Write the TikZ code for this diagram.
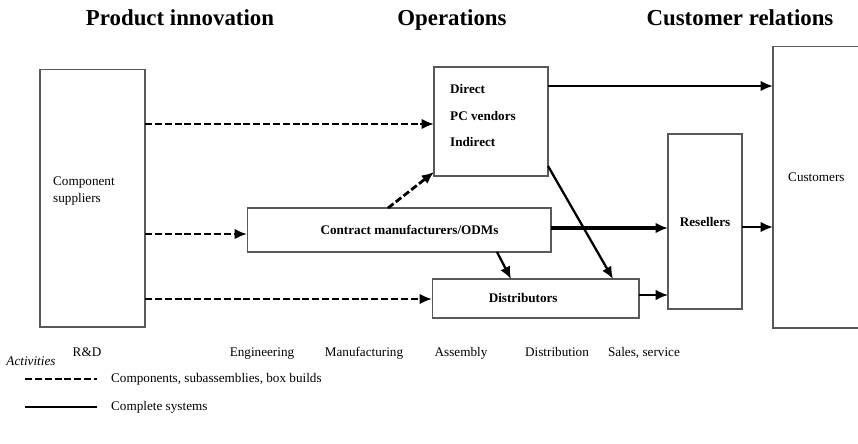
\documentclass[tikz,border=0pt]{standalone}
\usepackage{fontspec}
\setmainfont{Liberation Serif}
\usetikzlibrary{arrows.meta, positioning}

\tikzset{
  boxnode/.style={draw=black!65, line width=0.6pt, inner sep=0pt, outer sep=0pt},
  headtxt/.style={font=\fontsize{13}{15}\selectfont\bfseries, anchor=base},
  lbl/.style={font=\fontsize{7.5}{10.2}\selectfont},
  lblb/.style={font=\fontsize{7.5}{10}\selectfont\bfseries},
  dashedline/.style={line width=1.6pt, dash pattern=on 4pt off 1.6pt},
  dasharrow/.style={dashedline, -{Latex[length=7pt,width=6pt]}},
  solidarrow/.style={line width=1.3pt, -{Latex[length=7pt,width=6pt]}},
}

\begin{document}
\begin{tikzpicture}[x=0.02cm, y=-0.02cm]
  \useasboundingbox (0,0) rectangle (858,443);
  % titulos
  \node[headtxt] (hprod) at (180,25) {Product innovation};
  \node[headtxt] (hops) at (452,25) {Operations};
  \node[headtxt] (hcus) at (740,25) {Customer relations};
  % caixas
  \node[boxnode, minimum width=2.1cm, minimum height=5.16cm] (sup) at (92.5,198) {};
  \node[lbl, anchor=west, align=left] (suptxt) at (47,191) {Component\\suppliers};
  \node[boxnode, minimum width=2.28cm, minimum height=2.18cm] (pc) at (491,121.5) {};
  \node[lblb, anchor=west, align=left, font=\fontsize{7.5}{15}\selectfont\bfseries]
    (pctxt) at (444,115.5) {Direct\\PC vendors\\Indirect};
  \node[boxnode, lblb, minimum width=6.08cm, minimum height=0.88cm] (cm) at (399,230)
    {\hspace*{12pt}Contract manufacturers/ODMs};
  \node[boxnode, lblb, minimum width=4.14cm, minimum height=0.78cm] (dis) at (535.5,298.5)
    {Distributors\hspace*{14pt}};
  \node[boxnode, lblb, minimum width=1.48cm, minimum height=3.5cm] (res) at (705,221.5)
    {Resellers};
  \node[boxnode, minimum width=1.76cm, minimum height=5.64cm] (cus) at (817,187) {};
  \node[lbl, anchor=west] (custxt) at (782,177) {Customers};
  % componentes (tracejado)
  \draw[dasharrow] (sup.east |- 0,124) -- (pc.west |- 0,124);
  \draw[dasharrow] (sup.east |- 0,234) -- (cm.west |- 0,234);
  \draw[dasharrow] (sup.east |- 0,299) -- (dis.west |- 0,299);
  \draw[dasharrow] (cm.north -| 388,0) -- (pc.west |- 0,172);
  % sistemas completos
  \draw[solidarrow] (pc.east |- 0,86) -- (cus.west |- 0,86);
  \draw[solidarrow, line width=1.8pt] (cm.east |- 0,228) -- (res.west |- 0,228);
  \draw[solidarrow] (cm.south -| 497,0) -- (dis.north -| 511,0);
  \draw[solidarrow] (pc.east |- 0,166) -- (dis.north -| 613,0);
  \draw[solidarrow, line width=1pt] (dis.east |- 0,295) -- (res.west |- 0,295);
  \draw[solidarrow] (res.east |- 0,227) -- (cus.west |- 0,227);
  % atividades
  \node[lbl, anchor=base, font=\fontsize{7.5}{9}\selectfont\itshape] (act) at (31,365) {Activities};
  \node[lbl, anchor=base] (rd) at (87,356) {R\&D};
  \node[lbl, anchor=base] (eng) at (262,356) {Engineering};
  \node[lbl, anchor=base] (man) at (364,356) {Manufacturing};
  \node[lbl, anchor=base] (ass) at (461,356) {Assembly};
  \node[lbl, anchor=base] (dst) at (557,356) {Distribution};
  \node[lbl, anchor=base] (sal) at (644,356) {Sales, service};
  % legenda
  \coordinate (ldA) at (25,379);
  \coordinate (ldB) at (97,379);
  \coordinate (lsA) at (25,407);
  \coordinate (lsB) at (97,407);
  \draw[dashedline] (ldA) -- (ldB);
  \draw[line width=1.2pt] (lsA) -- (lsB);
  \node[lbl, anchor=west] (ldtxt) at (105,379) {Components, subassemblies, box builds};
  \node[lbl, anchor=west] (lstxt) at (105,407) {Complete systems};
\end{tikzpicture}
\end{document}
